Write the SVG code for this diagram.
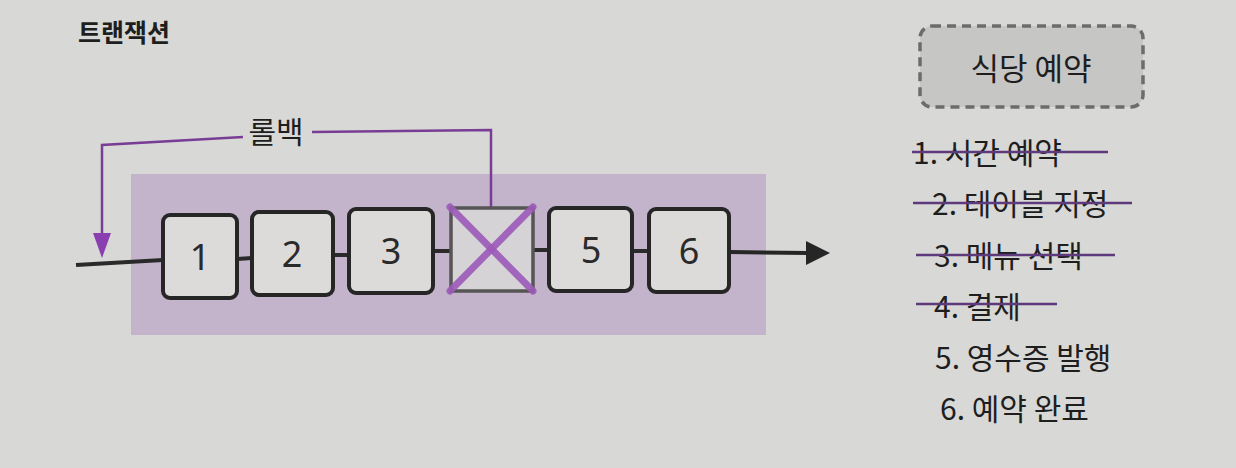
<svg xmlns="http://www.w3.org/2000/svg" width="1236" height="468" viewBox="0 0 1236 468">
<defs>
<style>
.t{font-family:"Noto Sans CJK KR","Noto Sans",sans-serif;fill:#1e1e1e}
.box{fill:#dcdbd9;stroke:#262626;stroke-width:4}
.num{font-family:"Noto Sans","Noto Sans CJK KR",sans-serif;font-size:36px;fill:#2a2a2a;text-anchor:middle}
.link{stroke:#2a2a2a;stroke-width:4;fill:none}
.strike{stroke:#5e3a7c;stroke-width:2.5}
.item{font-size:30px}
</style>
</defs>
<rect width="1236" height="468" fill="#d8d8d6"/>
<text class="t" x="78" y="42" font-size="25" font-weight="bold">트랜잭션</text>
<rect id="band" x="131" y="174" width="635" height="161" fill="#c3b3cb"/>
<g id="connectors">
<line class="link" x1="76" y1="265" x2="163" y2="260"/>
<line class="link" x1="237" y1="259" x2="252" y2="258"/>
<line class="link" x1="333" y1="255" x2="349" y2="255"/>
<line class="link" x1="433" y1="251" x2="450" y2="251"/>
<line class="link" x1="533" y1="250" x2="549" y2="250"/>
<line class="link" x1="632" y1="251" x2="649" y2="251"/>
<line x1="729" y1="252" x2="808" y2="253" stroke="#262626" stroke-width="4"/>
<path d="M806,241 L830,253 L806,265 z" fill="#262626"/>
<polyline points="491,207 491,130 312,132" fill="none" stroke="#7a3d96" stroke-width="2.5"/>
<polyline points="243,137 102,145 102,234" fill="none" stroke="#7a3d96" stroke-width="2.5"/>
<path d="M93,233 L111,233 L102,258 z" fill="#8a3fb0"/>
</g>
<text class="t" x="276" y="143" font-size="30" text-anchor="middle">롤백</text>
<g id="n1"><rect class="box" x="163" y="215" width="74" height="83" rx="7"/><text class="num" x="200" y="270">1</text></g>
<g id="n2"><rect class="box" x="252" y="212" width="81" height="83" rx="7"/><text class="num" x="292" y="267">2</text></g>
<g id="n3"><rect class="box" x="349" y="209" width="84" height="84" rx="7"/><text class="num" x="391" y="264" fill="#555">3</text></g>
<g id="n4"><rect x="451" y="208" width="82" height="83" fill="#d6d3d7" stroke="#555" stroke-width="3.5"/>
<line x1="450" y1="207" x2="533" y2="291" stroke="#9c5ab8" stroke-width="7" stroke-linecap="round" opacity="0.9"/>
<line x1="533" y1="207" x2="450" y2="291" stroke="#9c5ab8" stroke-width="7" stroke-linecap="round" opacity="0.9"/></g>
<g id="n5"><rect class="box" x="549" y="208" width="83" height="83" rx="7"/><text class="num" x="591" y="263">5</text></g>
<g id="n6"><rect class="box" x="649" y="209" width="80" height="83" rx="7"/><text class="num" x="689" y="264">6</text></g>
<g id="reserve">
<rect x="920" y="26" width="223" height="81" rx="12" fill="#c6c6c5" stroke="#6c6c6c" stroke-width="3.5" stroke-dasharray="9,6"/>
<text class="t" x="1031" y="80" font-size="31" text-anchor="middle">식당 예약</text>
</g>
<g id="list">
<text class="t item" x="913" y="164">1. 시간 예약</text>
<line class="strike" x1="912" y1="152" x2="1108" y2="152"/>
<text class="t item" x="932" y="215">2. 테이블 지정</text>
<line class="strike" x1="913" y1="203" x2="1132" y2="203"/>
<text class="t item" x="934" y="267">3. 메뉴 선택</text>
<line class="strike" x1="916" y1="255" x2="1115" y2="255"/>
<text class="t item" x="934" y="318">4. 결제</text>
<line class="strike" x1="916" y1="304" x2="1057" y2="304"/>
<text class="t item" x="935" y="369">5. 영수증 발행</text>
<text class="t item" x="940" y="420">6. 예약 완료</text>
</g>
</svg>
